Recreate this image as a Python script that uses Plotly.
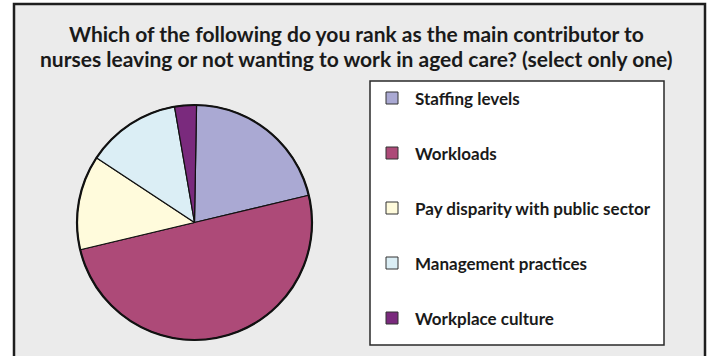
import plotly.graph_objects as go

# Data
categories = ["Staffing levels", "Workloads", "Pay disparity with public sector",
              "Management practices", "Workplace culture"]
values = [21, 50, 13, 13, 3]
colors = ["#AAA9D3", "#AD4A78", "#FFFBDC", "#DBEEF5", "#7A2A7D"]
title_lines = ["Which of the following do you rank as the main contributor to",
               "nurses leaving or not wanting to work in aged care? (select only one)"]

W, H = 712, 356
FONT = "Lato"

def px(x):
    return x / W

def py(y):
    return 1 - y / H

# Pie geometry (pixels)
cx, cy, r = 194.5, 222.5, 117.5

fig = go.Figure()
fig.add_trace(go.Pie(
    labels=categories,
    values=values,
    marker=dict(colors=colors, line=dict(color="#111111", width=1.2)),
    sort=False,
    direction="clockwise",
    rotation=1,
    textinfo="none",
    hoverinfo="label+percent",
    showlegend=False,
    domain=dict(x=[px(cx - r), px(cx + r)], y=[py(cy + r), py(cy - r)]),
))

shapes = []
# Outer frame
shapes.append(dict(type="rect", xref="paper", yref="paper",
                   x0=px(14), x1=px(705), y0=py(365), y1=py(4),
                   fillcolor="#EBEBEB", line=dict(color="#1E1E1E", width=2.5),
                   layer="below"))
# Outer circle emphasis
shapes.append(dict(type="circle", xref="paper", yref="paper",
                   x0=px(cx - r), x1=px(cx + r), y0=py(cy + r), y1=py(cy - r),
                   line=dict(color="#111111", width=2.2), layer="above"))
# Legend box
shapes.append(dict(type="rect", xref="paper", yref="paper",
                   x0=px(370), x1=px(664), y0=py(345), y1=py(81),
                   fillcolor="white", line=dict(color="#2A2A2A", width=1.5),
                   layer="below"))

annotations = []
leg_y0, leg_step = 98, 55
for i, (cat, col) in enumerate(zip(categories, colors)):
    yc = leg_y0 + i * leg_step
    shapes.append(dict(type="rect", xref="paper", yref="paper",
                       x0=px(386), x1=px(398), y0=py(yc + 6), y1=py(yc - 6),
                       fillcolor=col, line=dict(color="#333333", width=1)))
    annotations.append(dict(text=f"<b>{cat}</b>", xref="paper", yref="paper",
                            x=px(413), y=py(yc), xanchor="left", yanchor="middle",
                            showarrow=False,
                            font=dict(family=FONT, size=17, color="#1A1A1A")))

for i, line in enumerate(title_lines):
    annotations.append(dict(text=f"<b>{line}</b>", xref="paper", yref="paper",
                            x=px(356), y=py(33 + i * 25), xanchor="center",
                            yanchor="middle", showarrow=False,
                            font=dict(family=FONT, size=21, color="#1A1A1A")))

fig.update_layout(
    width=W, height=H,
    margin=dict(l=0, r=0, t=0, b=0),
    paper_bgcolor="white",
    plot_bgcolor="white",
    shapes=shapes,
    annotations=annotations,
    showlegend=False,
)

fig.write_html("out.html")
